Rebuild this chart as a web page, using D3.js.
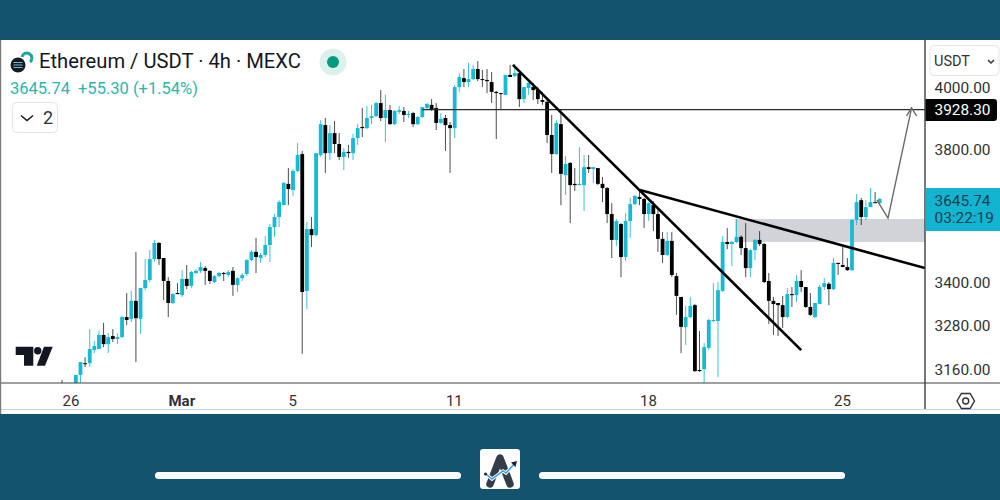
<!DOCTYPE html>
<html>
<head>
<meta charset="utf-8">
<script src="https://cdn.jsdelivr.net/npm/d3@7"></script>
<style>
  html, body { margin: 0; padding: 0; background: #14536d; }
  svg { display: block; font-family: Roboto, sans-serif; }
  .axis text { font-family: Roboto, sans-serif; fill: #2f3237; }
</style>
</head>
<body>
<svg id="chart"></svg>
<script>
// 4h candles (one entry per candle)
const opens = [
  3121,3103,3108,3113,3147,3178,3178,3213,3216,3254,
  3229,3251,3243,3248,3303,3298,3348,3298,3384,3407,
  3467,3514,3470,3404,3342,3370,3364,3410,3390,3427,
  3433,3441,3433,3401,3418,3427,3421,3433,3393,3412,
  3424,3464,3488,3470,3479,3508,3561,3591,3627,3692,
  3673,3732,3785,3376,3555,3537,3782,3878,3788,3852,
  3817,3776,3792,3788,3836,3872,3868,3901,3907,3950,
  3901,3927,3881,3921,3924,3911,3917,3881,3904,3934,
  3944,3934,3885,3901,3878,3868,4003,4033,4020,4030,
  4064,4030,4027,4020,3987,3983,3977,4044,4040,4050,
  3963,4000,4003,3993,3960,3954,3846,3785,3881,3719,
  3757,3692,3688,3688,3744,3738,3741,3692,3679,3600,
  3523,3570,3473,3579,3630,3652,3646,3600,3627,3600,
  3526,3479,3520,3418,3359,3276,3303,3336,3160,3162,
  3219,3292,3292,3376,3517,3511,3517,3532,3499,3441,
  3493,3523,3511,3404,3348,3342,3336,3303,3367,3364,
  3404,3387,3331,3303,3339,3387,3396,3381,3456,3450,
  3444,3435,3582,3642,3591,3621,3636,3633
];
const highs = [
  3134,3122,3126,3147,3181,3194,3270,3238,3265,3287,
  3259,3270,3259,3306,3370,3376,3488,3384,3467,3493,
  3523,3517,3470,3415,3370,3398,3435,3450,3433,3438,
  3459,3447,3435,3421,3430,3430,3435,3444,3415,3427,
  3467,3493,3529,3485,3534,3570,3600,3642,3698,3741,
  3738,3820,3795,3576,3591,3788,3894,3901,3878,3891,
  3852,3804,3814,3849,3881,3934,3940,3944,3954,3993,
  3977,3944,3927,3940,3937,3924,3921,3907,3937,3950,
  3963,3950,3917,3911,3888,4010,4050,4064,4085,4078,
  4091,4061,4064,4054,3990,3983,4044,4078,4081,4050,
  4003,4020,4017,4003,3987,3960,3911,3894,3927,3779,
  3760,3741,3807,3782,3782,3744,3741,3713,3682,3633,
  3585,3573,3603,3649,3658,3673,3649,3636,3639,3618,
  3546,3546,3546,3427,3359,3334,3359,3339,3265,3232,
  3298,3398,3401,3534,3558,3520,3585,3537,3573,3496,
  3526,3549,3514,3427,3359,3342,3362,3384,3387,3421,
  3435,3387,3370,3342,3393,3412,3401,3470,3456,3502,
  3470,3585,3661,3649,3642,3679,3667,3649
];
const lows = [
  3103,3100,3105,3108,3126,3168,3168,3205,3216,3221,
  3205,3235,3229,3246,3281,3289,3181,3257,3378,3401,
  3459,3450,3350,3303,3339,3367,3359,3381,3384,3424,
  3427,3393,3396,3398,3415,3404,3415,3362,3373,3404,
  3418,3461,3427,3456,3473,3459,3532,3561,3627,3627,
  3655,3729,3203,3325,3502,3534,3776,3726,3766,3788,
  3766,3735,3773,3766,3814,3839,3865,3881,3904,3891,
  3823,3878,3878,3914,3888,3901,3872,3878,3901,3930,
  3924,3862,3881,3795,3726,3836,3987,4003,4003,4027,
  4023,4003,3983,3950,3833,3927,3977,4037,4037,3937,
  3950,3977,3960,3947,3944,3820,3726,3782,3627,3658,
  3573,3670,3688,3609,3726,3695,3688,3636,3573,3470,
  3505,3415,3461,3529,3627,3627,3558,3579,3549,3488,
  3456,3476,3415,3309,3205,3227,3300,3155,3155,3123,
  3213,3289,3141,3373,3496,3447,3514,3479,3415,3415,
  3464,3505,3398,3284,3254,3251,3273,3300,3331,3345,
  3373,3328,3306,3300,3339,3378,3336,3378,3421,3444,
  3433,3433,3567,3567,3582,3621,3633,3630
];
const closes = [
  3108,3118,3123,3147,3181,3176,3216,3224,3254,3229,
  3248,3243,3248,3303,3295,3348,3300,3384,3407,3467,
  3514,3467,3404,3342,3367,3367,3410,3390,3430,3433,
  3444,3433,3404,3418,3427,3424,3430,3393,3412,3421,
  3464,3488,3473,3479,3508,3561,3591,3636,3695,3676,
  3732,3782,3373,3555,3537,3788,3881,3788,3852,3817,
  3776,3792,3788,3836,3868,3868,3901,3907,3950,3901,
  3927,3881,3924,3927,3911,3914,3881,3904,3937,3947,
  3927,3885,3898,3878,3868,4003,4037,4020,4030,4064,
  4030,4027,4023,3987,3983,3980,4044,4037,4050,3963,
  4003,4017,3993,3963,3954,3846,3785,3885,3723,3754,
  3688,3688,3692,3744,3738,3744,3692,3679,3600,3523,
  3579,3473,3579,3630,3655,3646,3600,3633,3600,3526,
  3479,3520,3421,3362,3276,3303,3334,3157,3157,3221,
  3295,3295,3378,3517,3511,3517,3532,3499,3441,3493,
  3523,3511,3401,3348,3339,3336,3303,3367,3364,3404,
  3387,3331,3309,3342,3387,3398,3381,3456,3453,3444,
  3435,3582,3636,3591,3621,3636,3633,3645.74
];

// axis ticks
const priceTicks = [4000, 3800, 3400, 3280, 3160];
const timeTickIndex = [2, 26, 50, 85, 127, 169];
const timeTickLabels = ['26', 'Mar', '5', '11', '18', '25'];

// drawings on the chart, as [candle index, price]
const trendA = [[97.6, 4078], [160, 3213]];
const trendB = [[125.1, 3673], [186.8, 3441]];
const forecast = [[176.4, 3642], [178.8, 3588], [183.9, 3934]];
const targetPrice = 3928.30;
const targetStart = 78;
const zoneTop = 3585;
const zoneBottom = 3517;
const zoneStart = 145.7;
const lastPrice = 3645.74;

const width = 1000, height = 500;
const panel = { top: 40, bottom: 414, axisY: 383, axisX: 925 };
const upColor = '#18b9d3', downColor = '#000';

const svg = d3.select('#chart').attr('width', width).attr('height', height);

// log price scale, same spacing as the reference axis
const xScale = d3.scaleLinear().domain([0, 177]).range([62, 879.7]);
const yScale = d3.scaleLog().domain([3160, 4000]).range([370, 88]);

svg.append('rect').attr('width', width).attr('height', height).attr('fill', '#14536d');
svg.append('rect').attr('y', panel.top).attr('width', width)
    .attr('height', panel.bottom - panel.top).attr('fill', '#fff');

svg.append('clipPath').attr('id', 'plot').append('rect')
    .attr('x', 0).attr('y', panel.top)
    .attr('width', panel.axisX).attr('height', panel.axisY - panel.top);

const plot = svg.append('g').attr('clip-path', 'url(#plot)');

// grey zone
plot.append('rect')
    .attr('x', xScale(zoneStart))
    .attr('y', yScale(zoneTop))
    .attr('width', panel.axisX - xScale(zoneStart))
    .attr('height', yScale(zoneBottom) - yScale(zoneTop))
    .attr('fill', '#d2d3d8');

// tradingview mark
const logo = svg.append('g').attr('fill', '#131722');
logo.append('path').attr('d', 'M15.7 346.7H33.3V365.7H24V355H15.7Z');
logo.append('circle').attr('cx', 37.7).attr('cy', 350.7).attr('r', 3.7);
logo.append('path').attr('d', 'M44 346.7H52.7L45 365.7H36.7Z');

// candles
const candles = d3.range(opens.length);
const candle = plot.append('g').selectAll('g')
    .data(candles)
    .join('g')
    .attr('transform', i => `translate(${xScale(i)},0)`);

candle.append('line')
    .attr('y1', i => yScale(highs[i]))
    .attr('y2', i => yScale(lows[i]))
    .attr('stroke', i => closes[i] >= opens[i] ? upColor : downColor)
    .attr('stroke-opacity', i => closes[i] >= opens[i] ? 0.85 : 0.7)
    .attr('stroke-width', 1);

candle.append('rect')
    .attr('x', -1.9)
    .attr('width', 3.8)
    .attr('y', i => yScale(Math.max(opens[i], closes[i])))
    .attr('height', i => Math.max(1, Math.abs(yScale(opens[i]) - yScale(closes[i]))))
    .attr('fill', i => closes[i] >= opens[i] ? upColor : downColor);

// target line, trend lines and forecast
plot.append('line')
    .attr('x1', xScale(targetStart)).attr('x2', panel.axisX)
    .attr('y1', yScale(targetPrice)).attr('y2', yScale(targetPrice))
    .attr('stroke', '#2a2a2a').attr('stroke-width', 1.3);

const line = d3.line().x(d => xScale(d[0])).y(d => yScale(d[1]));

plot.selectAll('.trend')
    .data([trendA, trendB])
    .join('path')
    .attr('class', 'trend')
    .attr('d', line)
    .attr('fill', 'none')
    .attr('stroke', '#000')
    .attr('stroke-width', 2.6);

plot.append('path')
    .attr('d', line(forecast))
    .attr('fill', 'none')
    .attr('stroke', '#6b6b6b')
    .attr('stroke-width', 1.4);

const tip = forecast[forecast.length - 1];
plot.append('path')
    .attr('d', `M${xScale(tip[0]) - 5},${yScale(tip[1]) + 8}L${xScale(tip[0])},${yScale(tip[1])}L${xScale(tip[0]) + 5},${yScale(tip[1]) + 8}`)
    .attr('fill', 'none')
    .attr('stroke', '#6b6b6b')
    .attr('stroke-width', 1.4);

// frame lines
svg.append('line').attr('x1', 0).attr('x2', width).attr('y1', panel.axisY).attr('y2', panel.axisY)
    .attr('stroke', '#3c3f45').attr('stroke-width', 1.2);
svg.append('line').attr('x1', panel.axisX).attr('x2', panel.axisX).attr('y1', panel.top).attr('y2', 410)
    .attr('stroke', '#3c3f45').attr('stroke-width', 1.4);
svg.append('line').attr('x1', 0).attr('x2', width).attr('y1', 409.5).attr('y2', 409.5)
    .attr('stroke', '#cfd1d6').attr('stroke-width', 1);
svg.append('line').attr('x1', 0.5).attr('x2', 0.5).attr('y1', panel.top).attr('y2', panel.bottom)
    .attr('stroke', '#7a7a7a').attr('stroke-width', 1.4);

// axes
const xAxis = d3.axisBottom(xScale)
    .tickValues(timeTickIndex)
    .tickFormat((d, i) => timeTickLabels[i])
    .tickSize(0)
    .tickPadding(0);
const xAxisG = svg.append('g').attr('class', 'axis x-axis')
    .attr('transform', 'translate(-0.8,395)')
    .call(xAxis);
xAxisG.select('.domain').remove();
xAxisG.selectAll('text')
    .attr('font-size', 15)
    .attr('font-weight', d => d === 26 ? 700 : 400);

const yAxis = d3.axisRight(yScale)
    .tickValues(priceTicks)
    .tickFormat(d3.format('.2f'))
    .tickSize(0)
    .tickPadding(0);
const yAxisG = svg.append('g').attr('class', 'axis y-axis')
    .attr('transform', 'translate(934.5,0)')
    .call(yAxis);
yAxisG.select('.domain').remove();
yAxisG.selectAll('text').attr('font-size', 15.4);

// price labels on the axis
svg.append('path')
    .attr('d', 'M925.5 99H994a3 3 0 0 1 3 3V118a3 3 0 0 1 -3 3H925.5Z')
    .attr('fill', '#050505');
svg.append('text').attr('x', 934.5).attr('y', yScale(targetPrice) + 5.5)
    .attr('font-size', 15.4).attr('fill', '#fff').text(d3.format('.2f')(targetPrice));

svg.append('rect').attr('x', 925.7).attr('y', 188).attr('width', 74.3).attr('height', 43)
    .attr('fill', '#12b4cf');
svg.append('text').attr('x', 934.5).attr('y', 205.5)
    .attr('font-size', 15.4).attr('fill', '#17414f').text(d3.format('.2f')(lastPrice));
svg.append('text').attr('x', 934.5).attr('y', 222.5)
    .attr('font-size', 15.4).attr('fill', '#17414f').text('03:22:19');

// currency button
svg.append('rect').attr('x', 930).attr('y', 45.5).attr('width', 69).attr('height', 30).attr('rx', 4)
    .attr('fill', '#fff').attr('stroke', '#e3e5ea');
svg.append('text').attr('x', 934).attr('y', 65.5).attr('font-size', 14.5).attr('fill', '#2f3237').text('USDT');
svg.append('path').attr('d', 'M988 60l3 3l3 -3').attr('fill', 'none').attr('stroke', '#2f3237').attr('stroke-width', 1.5);

// settings hexagon
svg.append('path').attr('d', 'M957 401L961.4 393.5H970.1L974.5 401L970.1 408.5H961.4Z')
    .attr('fill', 'none').attr('stroke', '#2f3237').attr('stroke-width', 1.4);
svg.append('circle').attr('cx', 965.7).attr('cy', 401).attr('r', 3)
    .attr('fill', 'none').attr('stroke', '#2f3237').attr('stroke-width', 1.4);

// header
svg.append('path').attr('d', 'M22 57a5 5 0 1 1 8 5').attr('fill', 'none').attr('stroke', '#1ea79c').attr('stroke-width', 3);
svg.append('circle').attr('cx', 18).attr('cy', 65).attr('r', 7.5).attr('fill', '#161a22');
svg.append('path').attr('d', 'M13.5 62.5h9M13.5 65h9M13.5 67.5h9').attr('stroke', '#6fb6d6').attr('stroke-width', 1.2);
svg.append('text').attr('x', 39).attr('y', 68).attr('font-size', 20.2).attr('fill', '#131722')
    .text('Ethereum / USDT · 4h · MEXC');
svg.append('circle').attr('cx', 333).attr('cy', 62).attr('r', 13.5).attr('fill', '#dcf1ec');
svg.append('circle').attr('cx', 333).attr('cy', 62).attr('r', 6).attr('fill', '#089981');

svg.append('text').attr('x', 10).attr('y', 94).attr('font-size', 16.5).attr('fill', '#2fb5ab').text('3645.74');
svg.append('text').attr('x', 78).attr('y', 94).attr('font-size', 16.5).attr('fill', '#2fb5ab').text('+55.30 (+1.54%)');

svg.append('rect').attr('x', 12.5).attr('y', 102.5).attr('width', 45).attr('height', 30).attr('rx', 4)
    .attr('fill', '#fff').attr('stroke', '#e3e5ea');
svg.append('path').attr('d', 'M21 115.5l6 5l6 -5').attr('fill', 'none').attr('stroke', '#131722').attr('stroke-width', 1.5);
svg.append('text').attr('x', 43).attr('y', 124).attr('font-size', 18).attr('fill', '#2f3237').text('2');

// footer bars and badge
svg.append('rect').attr('x', 155).attr('y', 472).attr('width', 306).attr('height', 7).attr('rx', 3.5).attr('fill', '#fff');
svg.append('rect').attr('x', 539).attr('y', 472).attr('width', 306).attr('height', 7).attr('rx', 3.5).attr('fill', '#fff');
svg.append('rect').attr('x', 480).attr('y', 449).attr('width', 40).attr('height', 40).attr('rx', 3).attr('fill', '#fff');
svg.append('path').attr('d', 'M490 484L500 458L510 484').attr('fill', 'none')
    .attr('stroke', '#343c4a').attr('stroke-width', 7.5).attr('stroke-linecap', 'round').attr('stroke-linejoin', 'round');
svg.append('path').attr('d', 'M486 474L492 479L503 471L506 473L515 463').attr('fill', 'none')
    .attr('stroke', '#fff').attr('stroke-width', 3.4);
svg.append('path').attr('d', 'M486 474L492 479L503 471L506 473L515 463').attr('fill', 'none')
    .attr('stroke', '#2f9fe0').attr('stroke-width', 1.5);
svg.append('path').attr('d', 'M517 461L511 462.5L515.5 467Z').attr('fill', '#1c2230');
svg.append('circle').attr('cx', 485.5).attr('cy', 474).attr('r', 1.5).attr('fill', '#1c2230');
</script>
</body>
</html>
